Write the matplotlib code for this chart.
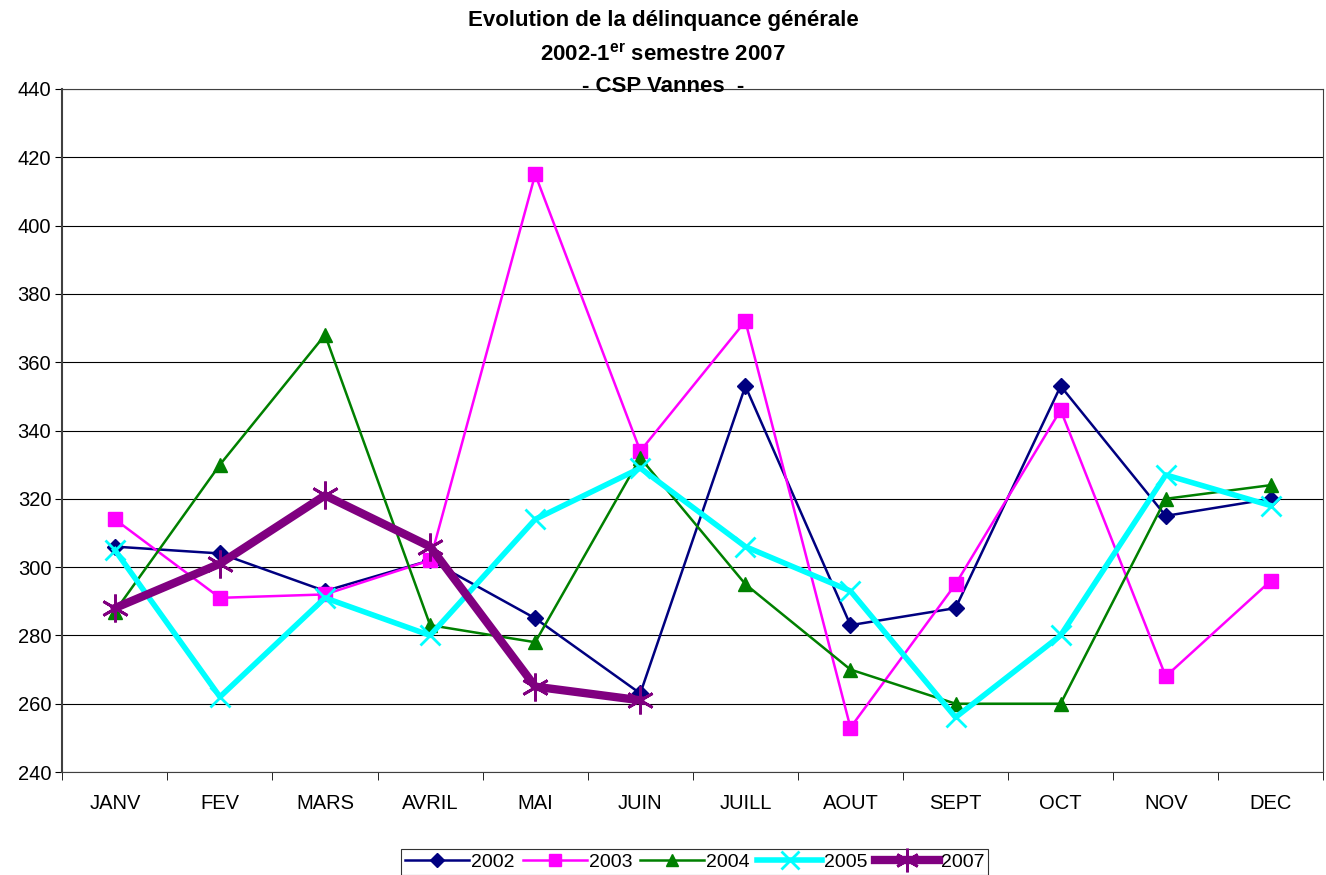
import matplotlib.pyplot as plt
import numpy as np

plt.rcParams['font.family'] = ['Liberation Sans', 'DejaVu Sans']
plt.rcParams['mathtext.fontset'] = 'custom'
plt.rcParams['mathtext.bf'] = 'Liberation Sans:bold'
plt.rcParams['mathtext.rm'] = 'Liberation Sans:bold'

months = ['JANV', 'FEV', 'MARS', 'AVRIL', 'MAI', 'JUIN', 'JUILL', 'AOUT', 'SEPT', 'OCT', 'NOV', 'DEC']
y2002 = [306, 304, 293, 302, 285, 263, 353, 283, 288, 353, 315, 320]
y2003 = [314, 291, 292, 302, 415, 334, 372, 253, 295, 346, 268, 296]
y2004 = [287, 330, 368, 283, 278, 332, 295, 270, 260, 260, 320, 324]
y2005 = [305, 262, 291, 280, 314, 329, 306, 293, 256, 280, 327, 318]
y2007 = [288, 301, 321, 306, 265, 261]

fig = plt.figure(figsize=(13.26, 8.75), dpi=100)
ax = fig.add_axes([0.047, 0.1177, 0.951, 0.7806])

x = np.arange(len(months))
ax.plot(x, y2002, color='#000080', lw=1.8, marker='D', ms=8, label='2002')
ax.plot(x, y2003, color='#FF00FF', lw=1.8, marker='s', ms=10, label='2003')
ax.plot(x, y2004, color='#008000', lw=1.8, marker='^', ms=10, label='2004')
ax.plot(x, y2005, color='#00FFFF', lw=4, marker='x', ms=15, mew=2, label='2005')
ax.plot(x[:len(y2007)], y2007, color='#800080', lw=6, marker=(6, 2, 0), ms=20, mew=2,
        label='2007')

ax.set_xlim(-0.5, 11.5)
ax.set_ylim(240, 440)
ax.set_yticks(np.arange(240, 441, 20))
ax.set_xticks(x)
ax.set_xticklabels(months)
ax.set_xticks(np.arange(-0.5, 12, 1), minor=True)
ax.tick_params(axis='x', which='major', length=0, pad=16, labelsize=14.5)
ax.tick_params(axis='x', which='minor', length=6, direction='out')
ax.tick_params(axis='y', labelsize=14.5, length=5, pad=3)
ax.grid(axis='y', color='black', lw=0.8)
ax.set_axisbelow(True)
for s in ax.spines.values():
    s.set_color('#404040')
ax.spines['left'].set_linewidth(1.5)

fig.text(0.5, 0.977, 'Evolution de la délinquance générale', ha='center', va='center',
         fontsize=16, fontweight='bold')
fig.text(0.5, 0.937, r'2002-1$^{\mathbf{er}}$ semestre 2007', ha='center', va='center',
         fontsize=16, fontweight='bold')
fig.text(0.5, 0.901, '- CSP Vannes  -', ha='center', va='center',
         fontsize=16, fontweight='bold')

leg = fig.legend(loc='center', bbox_to_anchor=(0.524, 0.015), ncol=5, fontsize=14,
                 frameon=True, fancybox=False, edgecolor='black', handlelength=3.3,
                 handletextpad=0.1, columnspacing=0.4, borderpad=0.2, markerscale=0.85)
leg.get_frame().set_linewidth(0.8)

fig.savefig('out.png', dpi=100)
